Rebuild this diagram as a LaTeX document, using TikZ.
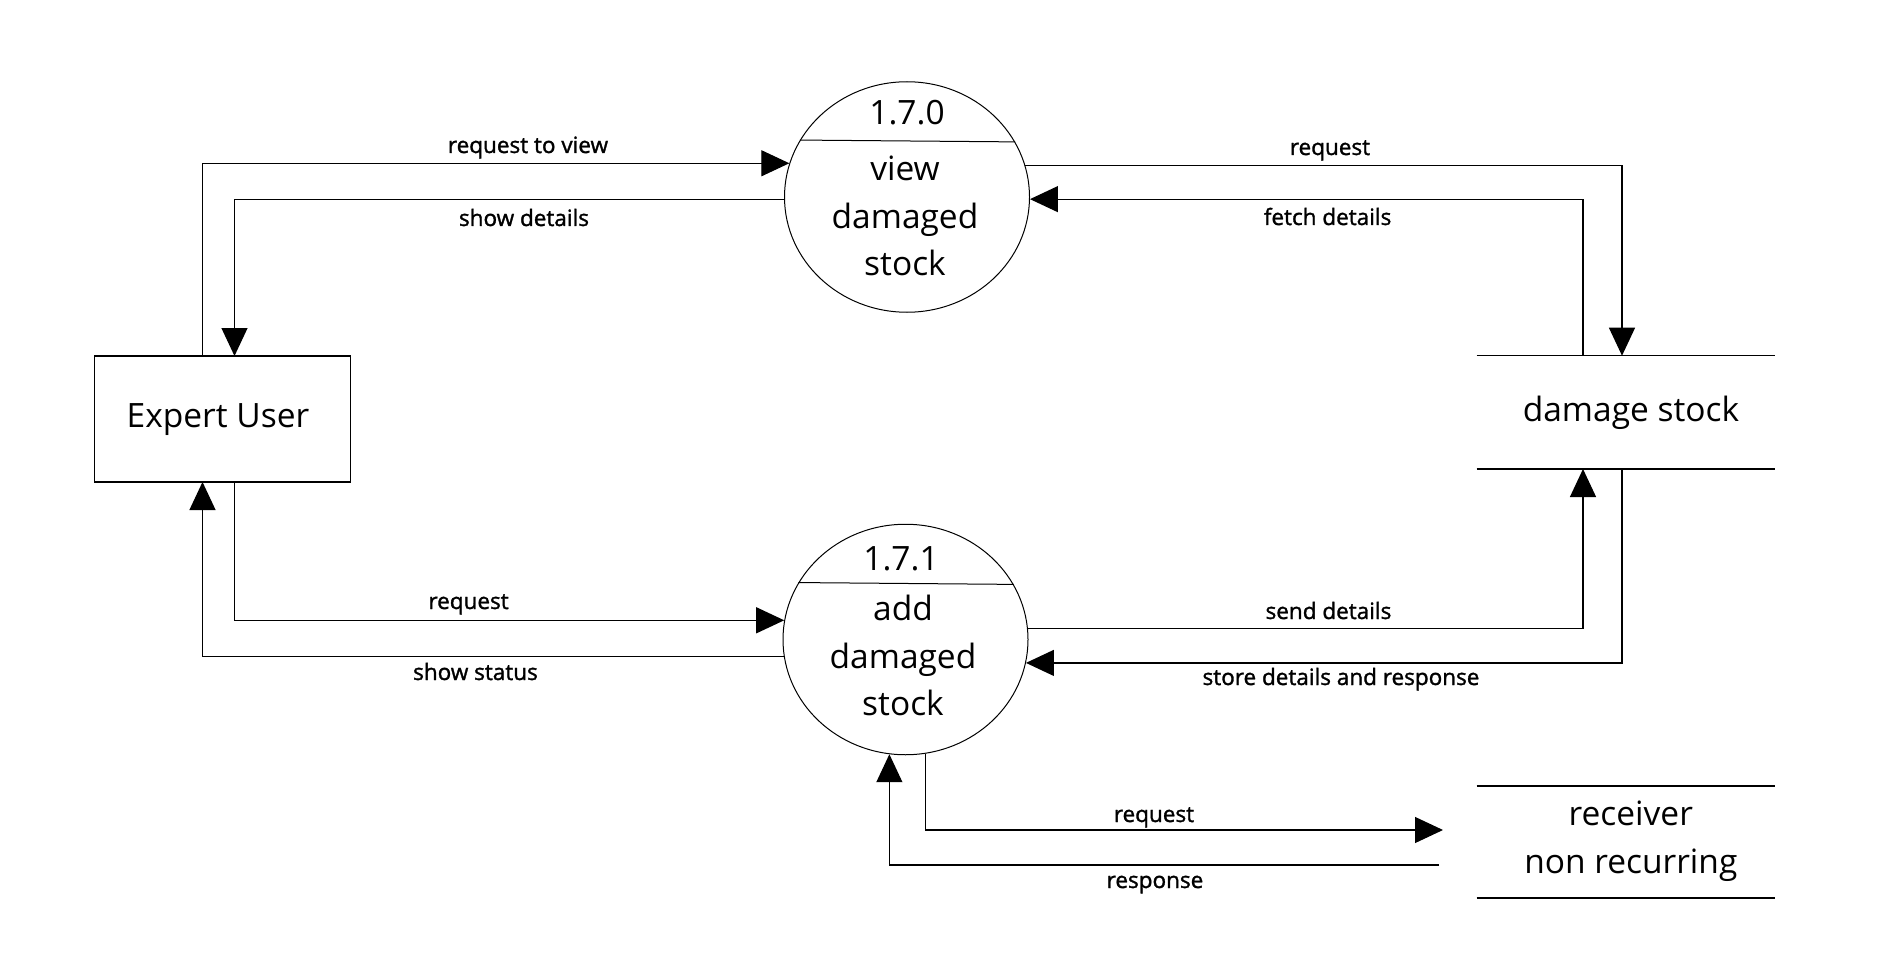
\documentclass[tikz,border=0pt]{standalone}
\usepackage{fontspec}
\setmainfont{Open Sans}
\newfontfamily\labfont{Open Sans}[FakeBold=1.4]
\usetikzlibrary{arrows.meta,shapes.geometric,calc}
\begin{document}
\begin{tikzpicture}[x=0.5pt,y=-0.5pt,
  line/.style={line width=0.6pt, draw=black},
  arr/.style={line, -{Triangle[length=14pt,width=13pt]}},
  proc/.style={ellipse, draw, line width=0.5pt, minimum width=122.5pt, minimum height=115.25pt, inner sep=0pt},
  store/.style={inner sep=0pt, outer sep=0pt},
  big/.style={font=\fontsize{16.75pt}{20pt}\selectfont, anchor=base, inner sep=0pt},
  lab/.style={font=\labfont\fontsize{11.25pt}{13pt}\selectfont, anchor=base, inner sep=0pt},
]
\fill[white] (0,0) rectangle (1903,974);
\useasboundingbox (0,0) rectangle (1903,974);

% external entity
\node[draw, line width=0.6pt, minimum width=128.1pt, minimum height=63pt, inner sep=0pt, outer sep=0pt] (eu) at (222.5,419) {};
\node[big] (eut) at (218,427) {Expert User};

% processes
\node[proc] (c1) at (907,197) {};
\node[proc] (c2) at (905.5,639.5) {};
\draw[line width=0.5pt] (c1.152.37) -- (c1.27.63);
\draw[line width=0.5pt] (c2.152.12) -- (c2.27.88);
\node[big] (c1a) at (907,125) {1.7.0};
\node[big] (c1b) at (905,180.7) {view};
\node[big] (c1c) at (905,228) {damaged};
\node[big] (c1d) at (905,275) {stock};
\node[big] (c2a) at (901,570) {1.7.1};
\node[big] (c2b) at (903,620) {add};
\node[big] (c2c) at (903,668) {damaged};
\node[big] (c2d) at (903,715) {stock};

% data stores
\node[store, minimum width=149.15pt, minimum height=56.65pt] (ds1) at (1625.85,412.35) {};
\draw[line] (ds1.north west) -- (ds1.north east);
\draw[line] (ds1.south west) -- (ds1.south east);
\node[big] (ds1t) at (1631,421.7) {damage stock};
\node[store, minimum width=149.15pt, minimum height=56pt] (ds2) at (1625.85,842) {};
\draw[line] (ds2.north west) -- (ds2.north east);
\draw[line] (ds2.south west) -- (ds2.south east);
\node[big] (ds2a) at (1630.8,825) {receiver};
\node[big] (ds2b) at (1630.8,873) {non recurring};

% connectors
\draw[arr] ($(eu.north)+(-20,0)$) |- (c1.164.79);
\draw[arr] (c1.181.87) -| ($(eu.north)+(12,0)$);
\draw[arr] (c1.15.21) -| ($(ds1.north)+(-3.85,0)$);
\draw[arr] ($(ds1.north)+(-42.85,0)$) |- (c1.359.06);
\draw[arr] ($(eu.south)+(12,0)$) |- (c2.171.30);
\draw[arr] (c2.188.22) -| ($(eu.south)+(-20,0)$);
\draw[arr] (c2.5.39) -| ($(ds1.south)+(-42.85,0)$);
\draw[arr] ($(ds1.south)+(-3.85,0)$) |- (c2.349.39);
\coordinate (rqend) at ($(ds2.west)+(-33.7,-12)$);
\coordinate (rsstart) at ($(ds2.west)+(-37.7,23)$);
\draw[arr] (c2.280.56) |- (rqend);
\draw[arr] (rsstart) -| (c2.262.30);

% labels
\node[lab] (l1) at (528,153) {request to view};
\node[lab] (l2) at (524,226) {show details};
\node[lab] (l3) at (1330,155) {request};
\node[lab] (l4) at (1327.6,225) {fetch details};
\node[lab] (l5) at (468.6,609) {request};
\node[lab] (l6) at (475.5,680) {show status};
\node[lab] (l7) at (1328.5,619) {send details};
\node[lab] (l8) at (1341,685) {store details and response};
\node[lab] (l9) at (1154,822) {request};
\node[lab] (l10) at (1155,888) {response};
\end{tikzpicture}
\end{document}
